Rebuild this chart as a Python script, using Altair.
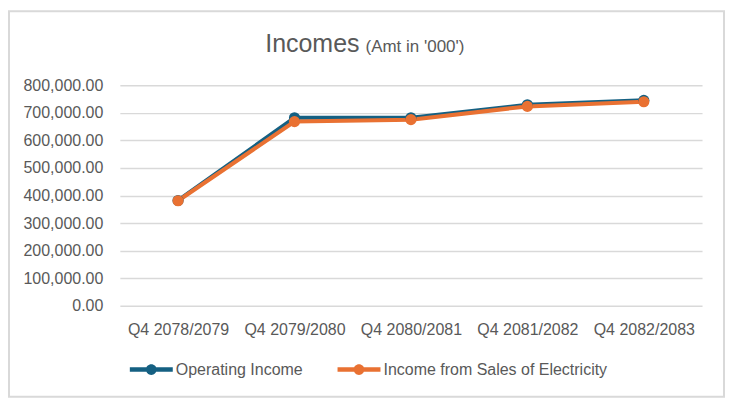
import altair as alt
import pandas as pd

categories = ["Q4 2078/2079", "Q4 2079/2080", "Q4 2080/2081", "Q4 2081/2082", "Q4 2082/2083"]
operating_income = [382000, 682000, 682000, 729000, 745000]
sales_income = [381000, 668000, 675000, 723000, 740000]
series_names = ["Operating Income", "Income from Sales of Electricity"]
series_colors = ["#156082", "#E97132"]
y_ticks = [0, 100000, 200000, 300000, 400000, 500000, 600000, 700000, 800000]
title_main = "Incomes"
title_sub = "(Amt in '000')"

rows = []
for s_idx, vals in enumerate([operating_income, sales_income]):
    for c, v in zip(categories, vals):
        rows.append({"Quarter": c, "Series": series_names[s_idx], "Value": v})
df = pd.DataFrame(rows)

FONT = "Liberation Sans"
TXT = "#595959"
W, H = 583, 221

legend_path = ("M-1,-0.1 L1,-0.1 L1,0.1 L-1,0.1 Z "
               "M-0.25,0 A0.25,0.25 0 1,1 0.25,0 A0.25,0.25 0 1,1 -0.25,0 Z")

x_enc = alt.X(
    "Quarter:N", sort=categories,
    scale=alt.Scale(type="point", padding=0.5),
    axis=alt.Axis(title=None, labelAngle=0, labelFontSize=16, labelColor=TXT,
                  labelFont=FONT, labelPadding=16, ticks=False, tickSize=0,
                  domain=False, grid=False),
)
y_enc = alt.Y(
    "Value:Q",
    scale=alt.Scale(domain=[0, 800000], nice=False),
    axis=alt.Axis(title=None, values=y_ticks, format=",.2f", labelFontSize=16,
                  labelColor=TXT, labelFont=FONT, labelPadding=17, ticks=False,
                  tickSize=0, domain=False, grid=True, gridColor="#D9D9D9",
                  gridWidth=1.5),
)
color_enc = alt.Color(
    "Series:N",
    scale=alt.Scale(domain=series_names, range=series_colors),
    legend=alt.Legend(title=None, orient="none", legendX=10, legendY=263,
                      direction="horizontal", symbolType=legend_path,
                      symbolSize=1849, symbolStrokeWidth=0, labelFontSize=16,
                      labelColor=TXT, labelFont=FONT, labelOffset=3,
                      labelLimit=0, columnPadding=34, padding=0,
                      symbolOpacity=1),
)

base = alt.Chart(df)
lines = base.mark_line(strokeWidth=4).encode(x=x_enc, y=y_enc, color=color_enc)
points = base.mark_point(filled=True, size=125, opacity=1).encode(
    x=x_enc, y=y_enc, color=color_enc)

one = alt.Data(values=[{}])
border = alt.Chart(one).mark_rect(fillOpacity=0, stroke="#D9D9D9", strokeWidth=2).encode(
    x=alt.value(-111), x2=alt.value(605), y=alt.value(-74), y2=alt.value(312))
t1 = alt.Chart(one).mark_text(text=title_main, align="right", baseline="alphabetic",
                              fontSize=25, font=FONT, color=TXT).encode(
    x=alt.value(240), y=alt.value(-33))
t2 = alt.Chart(one).mark_text(text=title_sub, align="left", baseline="alphabetic",
                              fontSize=17, font=FONT, color=TXT).encode(
    x=alt.value(246), y=alt.value(-33))

chart = alt.layer(border, lines, points, t1, t2).properties(
    width=W, height=H,
    autosize=alt.AutoSizeParams(type="none"),
    padding={"left": 112, "top": 77, "right": 23, "bottom": 92},
    background="white",
).configure_view(stroke=None)

chart.save("out.html", embed_options={"renderer": "svg", "actions": False})
